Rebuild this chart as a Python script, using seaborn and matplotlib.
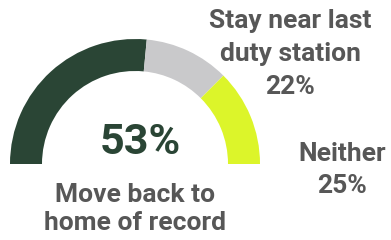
import matplotlib
matplotlib.use("Agg")
import matplotlib.pyplot as plt
import seaborn as sns

# answers, share in percent (half donut)
labels = ["Move back to\nhome of record", "Stay near last\nduty station", "Neither"]
shares = [53, 22, 25]
colors = ["#2a4535", "#c9c9cb", "#dcf52a"]

sns.set_theme(style="white")
plt.rcParams["font.family"] = ["Roboto", "DejaVu Sans"]

fig = plt.figure(figsize=(3.91, 2.40), dpi=100)
ax = fig.add_axes([0, 0, 1, 1])

# hidden lower half makes the gauge
vals = shares + [sum(shares)]
wedges, _ = ax.pie(vals, colors=colors + ["none"], startangle=180, counterclock=False,
                   center=(135, 76), radius=125, frame=True,
                   wedgeprops=dict(width=32, linewidth=0))
ax.set_xlim(0, 391)
ax.set_ylim(0, 240)
ax.set_aspect("equal")
ax.axis("off")

grey = "#575757"
ax.text(140, 97, f"{shares[0]}%", ha="center", va="center", fontsize=31,
        fontweight="bold", color=colors[0])
ax.text(135, 31, labels[0], ha="center", va="center", fontsize=19,
        fontweight="bold", color=grey, linespacing=1.25)
ax.text(290, 186, labels[1] + f"\n{shares[1]}%", ha="center", va="center",
        fontsize=19, fontweight="bold", color=grey, linespacing=1.45)
ax.text(342, 70, labels[2] + f"\n{shares[2]}%", ha="center", va="center",
        fontsize=19, fontweight="bold", color=grey, linespacing=1.4)

fig.savefig("out.png", dpi=100)
